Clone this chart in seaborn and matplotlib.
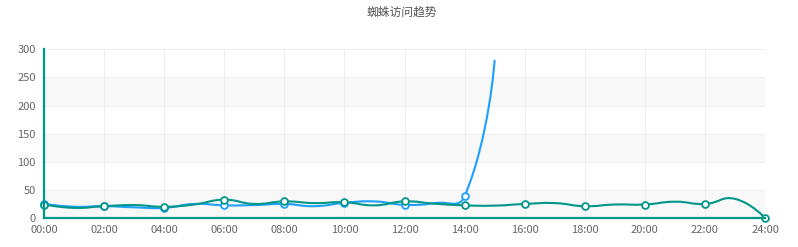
import numpy as np
import pandas as pd
import matplotlib
matplotlib.use("Agg")
import matplotlib.pyplot as plt
from matplotlib.path import Path
from matplotlib.patches import PathPatch
import seaborn as sns

# ---- data ----
title = "蜘蛛访问趋势"
tick_labels = ["00:00", "02:00", "04:00", "06:00", "08:00", "10:00", "12:00",
               "14:00", "16:00", "18:00", "20:00", "22:00", "24:00"]
hours_green = list(range(25))
green = [24, 18, 21, 23, 20, 24, 32.5, 25, 29.5, 26.5, 28, 22.5, 29.5, 25.5,
         22.5, 22, 25, 26.5, 21, 24, 24, 29, 25, 34, 0]
hours_blue = list(range(16))
blue = [25, 20, 21, 19, 18, 25, 22.5, 23, 25, 21, 27, 29.5, 23.5, 26.5, 38.5, 280]
y_ticks = [0, 50, 100, 150, 200, 250, 300]

GREEN = "#009688"
BLUE = "#1E9FFF"

sns.set_theme(style="white")
plt.rcParams['font.family'] = ['Noto Sans CJK SC', 'DejaVu Sans']

fig = plt.figure(figsize=(7.98, 2.47), dpi=100)
ax = fig.add_axes([44 / 798, 1 - 218 / 247, (765 - 44) / 798, (218 - 49.3) / 247])
ax.set_xlim(0, 24)
ax.set_ylim(0, 300)

# split areas
for i in range(6):
    ax.axhspan(i * 50, (i + 1) * 50, color="#f8f8f8" if i % 2 == 0 else "white",
               zorder=0, lw=0)
# grid
for v in range(0, 25, 2):
    ax.axvline(v, color="#eeeeee", lw=0.8, zorder=1)
for v in y_ticks:
    ax.axhline(v, color="#eeeeee", lw=0.8, zorder=1)

# pixel scales for smoothing
sx = (765 - 44) / 24.0
sy = (218 - 49.3) / 300.0


def smooth_path(xs, ys, smooth=0.5):
    pts = np.column_stack([np.array(xs, float) * sx, np.array(ys, float) * sy])
    n = len(pts)
    verts = [pts[0]]
    codes = [Path.MOVETO]
    cps = []
    for i in range(n):
        p = pts[i]
        if i == 0 or i == n - 1:
            cps.append((p, p))
            continue
        prev, nxt = pts[i - 1], pts[i + 1]
        v = nxt - prev
        lp = np.linalg.norm(p - prev)
        ln = np.linalg.norm(nxt - p)
        tot = lp + ln
        c0 = p - v * smooth * lp / tot
        c1 = p + v * smooth * ln / tot
        cps.append((c0, c1))
    for i in range(n - 1):
        verts += [cps[i][1], cps[i + 1][0], pts[i + 1]]
        codes += [Path.CURVE4] * 3
    verts = np.array(verts)
    verts[:, 0] /= sx
    verts[:, 1] /= sy
    return Path(verts, codes)


for xs, ys, col, z in [(hours_blue, blue, BLUE, 3), (hours_green, green, GREEN, 4)]:
    ax.add_patch(PathPatch(smooth_path(xs, ys), fill=False, edgecolor=col,
                           lw=1.5, zorder=z, capstyle="round"))

# markers at even hours
dfg = pd.DataFrame({"h": hours_green, "v": green})
dfb = pd.DataFrame({"h": hours_blue, "v": blue})
dfg = dfg[dfg.h % 2 == 0]
dfb = dfb[dfb.h % 2 == 0]
sns.scatterplot(data=dfb, x="h", y="v", ax=ax, s=24, color="white",
                edgecolor=BLUE, linewidth=1.3, zorder=5, legend=False)
sns.scatterplot(data=dfg, x="h", y="v", ax=ax, s=24, color="white",
                edgecolor=GREEN, linewidth=1.3, zorder=6, legend=False)
for c in ax.collections:
    c.set_clip_on(False)

ax.set_xticks(list(range(0, 25, 2)))
ax.set_xticklabels(tick_labels)
ax.set_yticks(y_ticks)
ax.set_yticklabels([str(v) for v in y_ticks])
ax.tick_params(axis="both", length=0, labelsize=8, colors="#666666")
ax.tick_params(axis="x", pad=5)
ax.tick_params(axis="y", pad=6)
ax.set_xlabel("")
ax.set_ylabel("")

for s in ["top", "right"]:
    ax.spines[s].set_visible(False)
for s in ["left", "bottom"]:
    ax.spines[s].set_color(GREEN)
    ax.spines[s].set_linewidth(1.6)
    ax.spines[s].set_zorder(7)

fig.text(402 / 798, 1 - 12 / 247, title, ha="center", va="center",
         fontsize=8.5, color="#555555")

fig.savefig("out.png", dpi=100)
